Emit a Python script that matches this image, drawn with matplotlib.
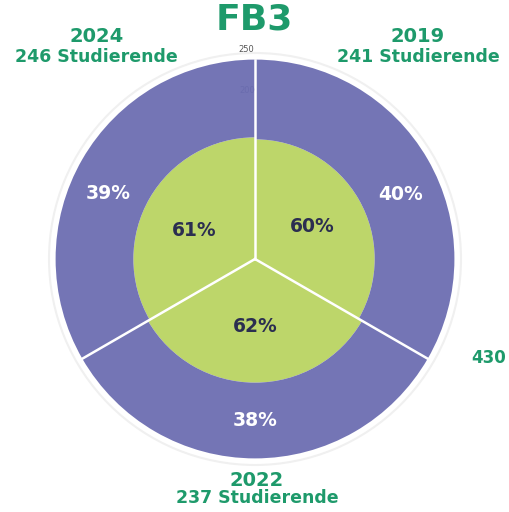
import numpy as np
import matplotlib.pyplot as plt

# Studierende FB3 - Anteil (innen gruen, aussen lila)
years = ["2019", "2022", "2024"]
students = [241, 237, 246]
inner_pct = [60, 62, 61]
outer_pct = [40, 38, 39]
side_label = "430"

full = 242  # radius of a full bar on the 0-250 axis
green = "#bdd66a"
purple = "#7475b5"
dark = "#2b2e50"
title_green = "#1e9a6b"

fig = plt.figure(figsize=(5.09, 5.12), dpi=100)
ax = fig.add_axes([0.0963, 0.0918, 0.8094, 0.8047], projection="polar")
ax.set_theta_zero_location("N")
ax.set_theta_direction(-1)

theta = np.deg2rad([60, 180, 300])
width = np.deg2rad(120)
inner = np.array(inner_pct) / 100 * full
outer = np.array(outer_pct) / 100 * full

ax.bar(theta, inner, width=width, color=green, edgecolor="none", zorder=2)
ax.bar(theta, outer, width=width, bottom=inner, color=purple, edgecolor="none", zorder=2)
# white separators between the years
for a in [0, 120, 240]:
    ax.plot([np.deg2rad(a)] * 2, [0, full], color="white", lw=1.8, zorder=3)

ax.set_ylim(0, 250)
ax.set_yticks([200, 250])
ax.set_yticklabels([])
ax.set_xticks([])
ax.grid(False)
ax.spines["polar"].set_color("#f0f0f0")
ax.spines["polar"].set_linewidth(1.5)

# radial tick labels, just left of the top separator
ax.text(np.deg2rad(-2.3), 255, "250", ha="center", va="center", fontsize=6, color="#555555", zorder=4)
ax.text(np.deg2rad(-2.6), 205, "200", ha="center", va="center", fontsize=6, color="#6a6cae", zorder=4)

in_ang = np.deg2rad([60, 180, 295])
out_ang = np.deg2rad([66, 180, 294])
for k in range(3):
    ax.text(in_ang[k], inner[k] * 0.55, f"{inner_pct[k]}%", ha="center", va="center",
            fontsize=13.5, fontweight="bold", color=dark, zorder=5)
    ax.text(out_ang[k], inner[k] + outer[k] / 2, f"{outer_pct[k]}%", ha="center", va="center",
            fontsize=13.5, fontweight="bold", color="white", zorder=5)

fig.text(0.5, 0.962, "FB3", ha="center", va="center", fontsize=26,
         fontweight="heavy", color=title_green)

# year labels around the chart
pos = {"2019": (0.821, 0.928, 0.889), "2022": (0.505, 0.061, 0.027), "2024": (0.19, 0.928, 0.889)}
for y, n in zip(years, students):
    x, y1, y2 = pos[y]
    fig.text(x, y1, y, ha="center", va="center", fontsize=14, fontweight="bold", color=title_green)
    fig.text(x, y2, f"{n} Studierende", ha="center", va="center", fontsize=12.5,
             fontweight="bold", color=title_green)

fig.text(0.959, 0.301, side_label, ha="center", va="center", fontsize=12,
         fontweight="bold", color=title_green)

fig.savefig("out.png", dpi=100)
